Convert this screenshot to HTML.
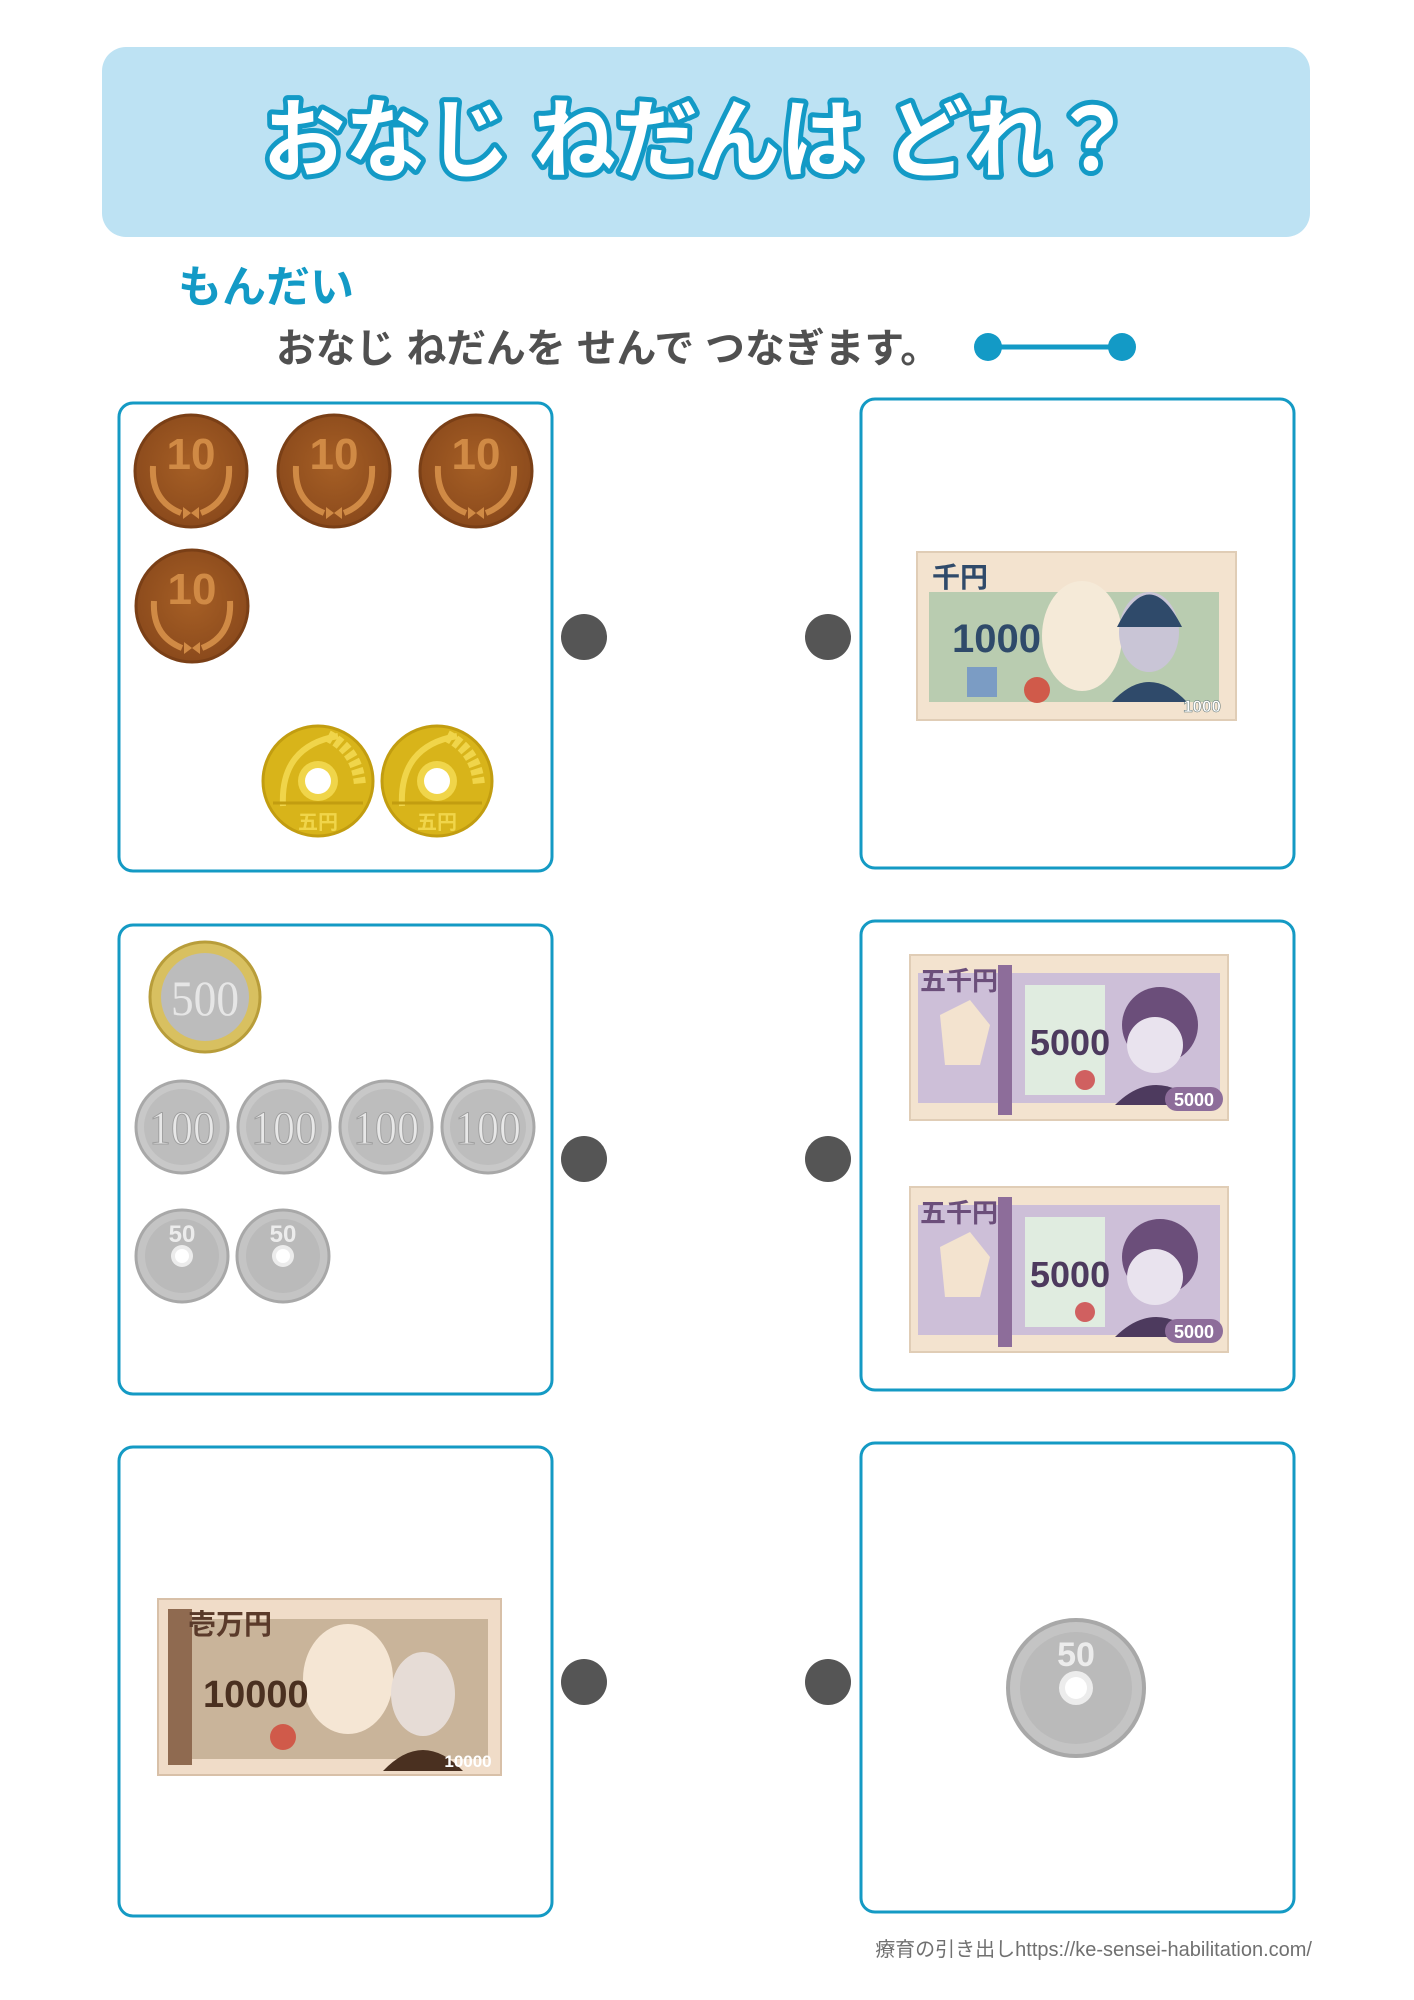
<!DOCTYPE html>
<html><head><meta charset="utf-8">
<style>
body{margin:0;background:#fff;}
svg{display:block;}
</style></head>
<body>
<svg width="1414" height="2000" viewBox="0 0 1414 2000" xmlns="http://www.w3.org/2000/svg" font-family="Liberation Sans, Noto Sans CJK JP, sans-serif">
<defs>
<radialGradient id="cu" cx="50%" cy="45%" r="55%"><stop offset="0" stop-color="#a65f25"/><stop offset="1" stop-color="#8b4a1c"/></radialGradient>
<g id="ten"><circle r="56" fill="url(#cu)" stroke="#7a3f16" stroke-width="3"/><text y="-2" text-anchor="middle" font-size="44" font-weight="bold" fill="#d08a45">10</text><path d="M-38,-5 Q-40,30 -10,42 M38,-5 Q40,30 10,42" stroke="#d08a45" stroke-width="6" fill="none"/><path d="M-8,36 L0,42 L8,36 L8,48 L0,42 L-8,48Z" fill="#d08a45"/></g>
<g id="five"><circle r="55" fill="#d8b41a" stroke="#c29d10" stroke-width="3"/><path d="M-35,25 Q-38,-35 20,-45" stroke="#f0d54a" stroke-width="6" fill="none"/><path d="M10,-45 Q40,-30 42,5" stroke="#f0d54a" stroke-width="12" fill="none" stroke-dasharray="6 3"/><circle r="20" fill="#f0d54a"/><circle r="13" fill="#fff"/><line x1="-45" y1="22" x2="45" y2="22" stroke="#c29d10" stroke-width="3"/><text y="48" text-anchor="middle" font-size="20" font-weight="bold" fill="#f0d54a">五円</text></g>
<g id="hund"><circle r="46" fill="#c8c8c8" stroke="#a8a8a8" stroke-width="3"/><circle r="38" fill="#bdbdbd"/><text y="17" text-anchor="middle" font-size="48" font-family="Liberation Serif, serif" fill="#e8e8e8" stroke="#a0a0a0" stroke-width="1" textLength="66" lengthAdjust="spacingAndGlyphs">100</text></g>
<g id="fifty"><circle r="46" fill="#c4c4c4" stroke="#a8a8a8" stroke-width="3"/><circle r="37" fill="#bababa"/><text y="-14" text-anchor="middle" font-size="24" font-weight="bold" fill="#ececec">50</text><circle r="11" fill="#ececec"/><circle r="7" fill="#fff"/></g>
<g id="b5000"><rect width="318" height="165" fill="#f3e3cf" stroke="#e0cdb6" stroke-width="2"/><rect x="8" y="18" width="302" height="130" fill="#cdbfd8"/><rect x="88" y="10" width="14" height="150" fill="#8d6d9a"/><path d="M30,60 L60,45 L80,70 L70,110 L35,110Z" fill="#f3e3cf"/><rect x="115" y="30" width="80" height="110" fill="#e0ece0"/><text x="10" y="35" font-size="26" font-weight="bold" fill="#6b4e7a">五千円</text><text x="120" y="100" font-size="36" font-weight="bold" fill="#4d3a5e">5000</text><circle cx="250" cy="70" r="38" fill="#6b4e7a"/><circle cx="245" cy="90" r="28" fill="#e9e3ee"/><path d="M205,150 Q245,110 290,150Z" fill="#4d3a5e"/><circle cx="175" cy="125" r="10" fill="#d06060"/><rect x="255" y="132" width="58" height="24" rx="12" fill="#8d6d9a"/><text x="284" y="151" text-anchor="middle" font-size="18" font-weight="bold" fill="#fff">5000</text></g>
</defs>

<rect x="102" y="47" width="1208" height="190" rx="24" fill="#bde2f3"/>
<text x="698" y="170" text-anchor="middle" font-size="86" font-weight="bold" fill="#fff" stroke="#139ac6" stroke-width="10" paint-order="stroke" stroke-linejoin="round" textLength="870" lengthAdjust="spacingAndGlyphs">おなじ ねだんは どれ？</text>

<text x="178" y="302" font-size="44" font-weight="bold" fill="#139ac6">もんだい</text>
<text x="276" y="362" font-size="40" font-weight="bold" fill="#505050" textLength="664" lengthAdjust="spacingAndGlyphs">おなじ ねだんを せんで つなぎます。</text>
<line x1="990" y1="347" x2="1120" y2="347" stroke="#139ac6" stroke-width="5"/>
<circle cx="988" cy="347" r="14" fill="#139ac6"/><circle cx="1122" cy="347" r="14" fill="#139ac6"/>

<g fill="none" stroke="#149ac4" stroke-width="3">
<rect x="119" y="403" width="433" height="468" rx="14"/>
<rect x="119" y="925" width="433" height="469" rx="14"/>
<rect x="119" y="1447" width="433" height="469" rx="14"/>
<rect x="861" y="399" width="433" height="469" rx="14"/>
<rect x="861" y="921" width="433" height="469" rx="14"/>
<rect x="861" y="1443" width="433" height="469" rx="14"/>
</g>
<g fill="#555">
<circle cx="584" cy="637" r="23"/><circle cx="828" cy="637" r="23"/>
<circle cx="584" cy="1159" r="23"/><circle cx="828" cy="1159" r="23"/>
<circle cx="584" cy="1682" r="23"/><circle cx="828" cy="1682" r="23"/>
</g>

<use href="#ten" x="191" y="471"/><use href="#ten" x="334" y="471"/><use href="#ten" x="476" y="471"/><use href="#ten" x="192" y="606"/>
<use href="#five" x="318" y="781"/><use href="#five" x="437" y="781"/>

<g transform="translate(205,997)"><circle r="55" fill="#d8c060" stroke="#b89d3a" stroke-width="3"/><circle r="44" fill="#bcbcbc"/><text y="18" text-anchor="middle" font-size="50" font-family="Liberation Serif, serif" fill="#e6e6e6" textLength="68" lengthAdjust="spacingAndGlyphs">500</text></g>
<use href="#hund" x="182" y="1127"/><use href="#hund" x="284" y="1127"/><use href="#hund" x="386" y="1127"/><use href="#hund" x="488" y="1127"/>
<use href="#fifty" x="182" y="1256"/><use href="#fifty" x="283" y="1256"/>

<g transform="translate(1076,1688)"><circle r="68" fill="#c4c4c4" stroke="#a8a8a8" stroke-width="4"/><circle r="56" fill="#bababa"/><text y="-22" text-anchor="middle" font-size="34" font-weight="bold" fill="#ececec">50</text><circle r="17" fill="#ececec"/><circle r="11" fill="#fff"/></g>

<g transform="translate(917,552)"><rect width="319" height="168" fill="#f3e3cf" stroke="#e0cdb6" stroke-width="2"/><rect x="12" y="40" width="290" height="110" fill="#b9ccb0"/><ellipse cx="165" cy="84" rx="40" ry="55" fill="#f5ead8"/><text x="15" y="35" font-size="28" font-weight="bold" fill="#2f4a6a">千円</text><text x="35" y="100" font-size="40" font-weight="bold" fill="#2f4a6a">1000</text><ellipse cx="232" cy="80" rx="30" ry="40" fill="#c9c5d6"/><path d="M200,75 Q232,10 265,75" fill="#2f4a6a"/><path d="M195,150 Q232,110 270,150Z" fill="#2f4a6a"/><circle cx="120" cy="138" r="13" fill="#d05a4a"/><rect x="50" y="115" width="30" height="30" fill="#7b9cc4"/><text x="285" y="160" text-anchor="middle" font-size="17" font-weight="bold" fill="#fff" stroke="#5f7474" stroke-width="0.5">1000</text></g>

<use href="#b5000" x="910" y="955"/><use href="#b5000" x="910" y="1187"/>

<g transform="translate(158,1599)"><rect width="343" height="176" fill="#f0dcc8" stroke="#d8c0a8" stroke-width="2"/><rect x="20" y="20" width="310" height="140" fill="#c9b49a"/><rect x="10" y="10" width="24" height="156" fill="#8f6a50"/><ellipse cx="190" cy="80" rx="45" ry="55" fill="#f5e6d4"/><text x="30" y="35" font-size="28" font-weight="bold" fill="#5a3a2a">壱万円</text><text x="45" y="108" font-size="38" font-weight="bold" fill="#4a3020">10000</text><ellipse cx="265" cy="95" rx="32" ry="42" fill="#e6dcd6"/><path d="M225,172 Q265,130 305,172Z" fill="#4a3020"/><circle cx="125" cy="138" r="13" fill="#d05a4a"/><text x="310" y="168" text-anchor="middle" font-size="17" font-weight="bold" fill="#fff">10000</text></g>

<text x="1312" y="1956" text-anchor="end" font-size="20" fill="#707070">療育の引き出しhttps://ke-sensei-habilitation.com/</text>
</svg>
</body></html>
